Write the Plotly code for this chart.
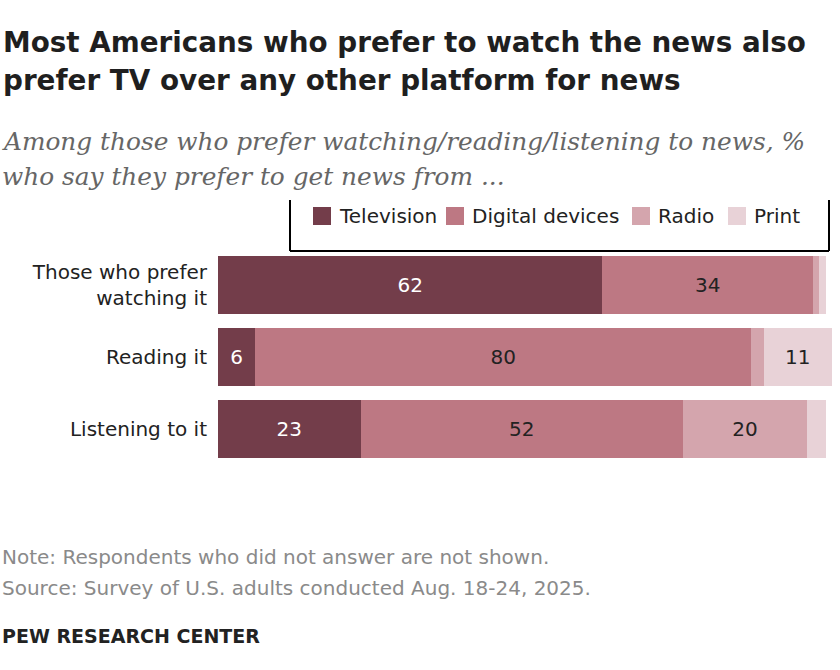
import plotly.graph_objects as go

categories = ["Those who prefer<br>watching it", "Reading it", "Listening to it"]
series_names = ["Television", "Digital devices", "Radio", "Print"]
television = [62, 6, 23]
digital = [34, 80, 52]
radio = [1, 2, 20]
print_ = [1, 11, 3]

title_lines = ["Most Americans who prefer to watch the news also",
               "prefer TV over any other platform for news"]
subtitle_lines = ["Among those who prefer watching/reading/listening to news, %",
                  "who say they prefer to get news from ..."]
footer_lines = ["Note: Respondents who did not answer are not shown.",
                "Source: Survey of U.S. adults conducted Aug. 18-24, 2025."]
credit = "PEW RESEARCH CENTER"

colors = ["#733d4a", "#bd7883", "#d4a5ad", "#e8d2d7"]
text_colors = ["white", "#222222", "#222222", "#222222"]

SANS = "DejaVu Sans"

W_FIG, H_FIG = 840, 670
L, R, T, B = 218, 2, 249, 205
PW = W_FIG - L - R
PH = H_FIG - T - B


def px(x):
    return (x - L) / PW


def py(y):
    return (H_FIG - B - y) / PH


fig = go.Figure()
for name, vals, col, tcol in zip(series_names, [television, digital, radio, print_], colors, text_colors):
    fig.add_trace(go.Bar(
        y=categories, x=vals, name=name, orientation="h",
        marker=dict(color=col, line=dict(width=0)),
        text=[str(v) if v >= 5 else "" for v in vals],
        textposition="inside", insidetextanchor="middle", textangle=0,
        textfont=dict(color=tcol, size=20, family=SANS),
        hoverinfo="skip", showlegend=False,
    ))

fig.update_layout(
    barmode="stack", bargap=0.2,
    width=W_FIG, height=H_FIG,
    margin=dict(l=L, r=R, t=T, b=B),
    paper_bgcolor="white", plot_bgcolor="white",
    font=dict(family=SANS, color="#222222"),
    xaxis=dict(range=[0, 100], visible=False, fixedrange=True),
    yaxis=dict(autorange="reversed", showgrid=False, zeroline=False, showline=False,
               ticks="", tickfont=dict(size=20, color="#222222"), ticklabelstandoff=10),
    showlegend=False,
)

# legend (manual): square swatches + labels
legend_x = [313, 446, 632, 728]
legend_yc = 216
for name, col, lx in zip(series_names, colors, legend_x):
    fig.add_shape(type="rect", xref="paper", yref="paper",
                  x0=px(lx), x1=px(lx + 18), y0=py(legend_yc - 9), y1=py(legend_yc + 9),
                  fillcolor=col, line=dict(width=0))
    fig.add_annotation(xref="paper", yref="paper", x=px(lx + 24), y=py(legend_yc),
                       xanchor="left", yanchor="middle", showarrow=False, text=name,
                       font=dict(size=20, color="#222222", family=SANS))

# legend bracket box
for x0, y0, x1, y1 in [(290, 200, 290, 251), (829, 200, 829, 251), (290, 251, 829, 251)]:
    fig.add_shape(type="line", xref="paper", yref="paper",
                  x0=px(x0), y0=py(y0), x1=px(x1), y1=py(y1),
                  line=dict(color="black", width=2))

for line, yc in zip(title_lines, [42, 80]):
    fig.add_annotation(xref="paper", yref="paper", x=px(1), y=py(yc), xanchor="left", yanchor="middle",
                       showarrow=False, text="<b>" + line + "</b>",
                       font=dict(size=27.8, color="#1f1f1f", family=SANS))
for line, yc in zip(subtitle_lines, [141, 176]):
    fig.add_annotation(xref="paper", yref="paper", x=px(0), y=py(yc), xanchor="left", yanchor="middle",
                       showarrow=False, text="<i>" + line + "</i>",
                       font=dict(size=24.8, color="#666666", family="DejaVu Serif"))
for line, yc in zip(footer_lines, [557, 588]):
    fig.add_annotation(xref="paper", yref="paper", x=px(0), y=py(yc), xanchor="left", yanchor="middle",
                       showarrow=False, text=line,
                       font=dict(size=20, color="#8a8a8a", family=SANS))
fig.add_annotation(xref="paper", yref="paper", x=px(0), y=py(636), xanchor="left", yanchor="middle",
                   showarrow=False, text="<b>" + credit + "</b>",
                   font=dict(size=19, color="#222222", family=SANS))

fig.write_html("out.html")
